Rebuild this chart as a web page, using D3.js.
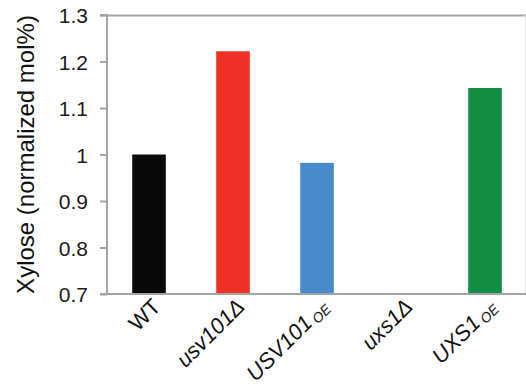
<!DOCTYPE html>
<html>
<head>
<meta charset="utf-8">
<script src="https://cdn.jsdelivr.net/npm/d3@7/dist/d3.min.js"></script>
<style>
  html, body { margin: 0; padding: 0; background: #fff; }
  svg { display: block; font-family: "Liberation Sans", Arial, sans-serif; }
</style>
</head>
<body>
<svg id="chart" width="526" height="387"></svg>
<script>
// Strains and their normalized xylose content
const strains = ["WT", "usv101Δ", "USV101", "uxs1Δ", "UXS1"];
const subscripts = ["", "", "OE", "", "OE"];
const italicLabel = [false, true, true, true, true];
const xyloseValues = [1.0, 1.222, 0.982, 0.70, 1.143];
const barColors = ["#0a0a0a", "#ee3124", "#478bcb", "#c9d6e6", "#128f45"];
const yTicks = [0.7, 0.8, 0.9, 1, 1.1, 1.2, 1.3];

const svg = d3.select("#chart");
const margin = { left: 107, right: 0, top: 15, bottom: 93 };
const W = 526, H = 387;

const x = d3.scaleBand()
  .domain(strains)
  .range([margin.left, margin.left + 5 * 84])
  .paddingInner(0.6)
  .paddingOuter(0.3);

const y = d3.scaleLinear()
  .domain([0.7, 1.3])
  .range([H - margin.bottom, margin.top]);

const axisColor = "#a3a3a3";

// top frame line at the axis maximum
svg.append("line")
  .attr("x1", margin.left - 7).attr("x2", W)
  .attr("y1", y(1.3) + 0.5).attr("y2", y(1.3) + 0.5)
  .attr("stroke", axisColor).attr("stroke-width", 2);

// faint right frame edge
svg.append("line")
  .attr("x1", W - 0.5).attr("x2", W - 0.5)
  .attr("y1", y(1.3)).attr("y2", y(0.7))
  .attr("stroke", "#e4e4e4").attr("stroke-width", 1);

// bars
svg.append("g").selectAll("rect")
  .data(strains)
  .join("rect")
  .attr("x", d => x(d))
  .attr("width", x.bandwidth())
  .attr("y", (d, i) => y(xyloseValues[i]))
  .attr("height", (d, i) => Math.max(0, y(0.7) - y(xyloseValues[i])))
  .attr("fill", (d, i) => barColors[i]);

// y axis
const yAxis = d3.axisLeft(y)
  .tickValues(yTicks)
  .tickSize(7)
  .tickPadding(12)
  .tickFormat(d => d3.format("")(+d.toFixed(1)));

const gy = svg.append("g")
  .attr("transform", `translate(${margin.left},0)`)
  .call(yAxis);
gy.select(".domain").attr("stroke", axisColor).attr("stroke-width", 2)
  .attr("d", `M-7,${y(1.3)}H0V${y(0.7)}`);
gy.selectAll(".tick line").attr("stroke", axisColor).attr("stroke-width", 2);
gy.selectAll(".tick text")
  .attr("fill", "#1a1a1a")
  .style("font-size", "21px")
  .attr("dy", "0.36em");

// x axis baseline
svg.append("line")
  .attr("x1", margin.left - 7).attr("x2", W)
  .attr("y1", y(0.7)).attr("y2", y(0.7))
  .attr("stroke", axisColor).attr("stroke-width", 2);

// category labels, rotated 45° about their right baseline end
const labelX = d => x(d) + x.bandwidth() / 2 + 13;
const labelY = y(0.7) + 14;
const labels = svg.append("g").selectAll("text")
  .data(strains)
  .join("text")
  .attr("x", labelX)
  .attr("y", labelY)
  .attr("transform", d => `rotate(-45,${labelX(d)},${labelY})`)
  .attr("text-anchor", "end")
  .attr("fill", "#111")
  .attr("font-size", 22)
  .attr("font-style", (d, i) => italicLabel[i] ? "italic" : "normal");

labels.append("tspan").text(d => d);
labels.filter((d, i) => subscripts[i])
  .append("tspan")
  .text(d => subscripts[strains.indexOf(d)])
  .attr("font-size", 14)
  .attr("dx", 3)
  .attr("dy", 3);

// y axis title
svg.append("text")
  .attr("transform", `translate(34,${(y(0.7) + y(1.3)) / 2}) rotate(-90)`)
  .attr("text-anchor", "middle")
  .attr("fill", "#111")
  .attr("font-size", 24)
  .text("Xylose (normalized mol%)");
</script>
</body>
</html>
